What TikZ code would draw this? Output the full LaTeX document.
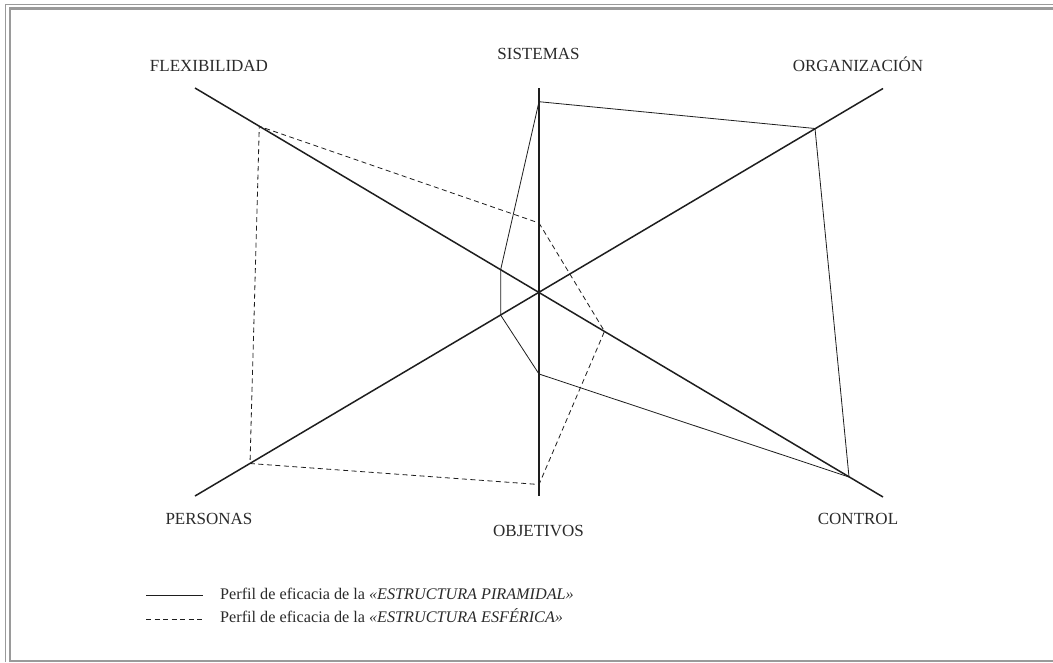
\documentclass[tikz,border=0pt]{standalone}
\usepackage{fontspec}
\setmainfont{Liberation Serif}
\definecolor{ink}{HTML}{1E1E1E}
\definecolor{textink}{HTML}{2A2A2A}
\definecolor{framegray}{HTML}{9A9A9A}
\begin{document}
\begin{tikzpicture}[x=1pt,y=-1pt,
  axis/.style={draw=ink,line width=1.5pt},
  profile/.style={draw=ink,line width=0.8pt,line join=miter},
  sphere/.style={profile,dash pattern=on 5pt off 3.5pt},
  axislabel/.style={anchor=base,inner sep=0pt,text=textink,font=\fontsize{17}{20}\selectfont},
  legendtext/.style={anchor=base west,inner sep=0pt,text=textink,font=\fontsize{16.2}{19}\selectfont},
  framethin/.style={draw=framegray,line width=1pt},
  framethick/.style={draw=framegray,line width=2.2pt}]
\useasboundingbox (0,0) rectangle (1053,662);
\fill[white] (0,0) rectangle (1053,662);

% double gray frame, open to the right
\draw[framethin] (5.5,662) -- (5.5,4.5) -- (1053,4.5);
\draw[framethick] (10,662) -- (10,8.5) -- (1053,8.5);
\draw[framethick] (10,660.8) -- (1053,660.8);

% axis end points and centre
\coordinate (c) at (539,292.5);
\coordinate (sisTop) at (539,88);
\coordinate (objBot) at (539,496);
\coordinate (flexEnd) at (195,88);
\coordinate (ctrlEnd) at (883,497);
\coordinate (orgEnd) at (883,88.5);
\coordinate (perEnd) at (195,496);

% axes
\draw[axis] (sisTop) -- (objBot);
\draw[axis] (flexEnd) -- (ctrlEnd);
\draw[axis] (perEnd) -- (orgEnd);

% axis labels
\node[axislabel] (lflex) at (209,71) {FLEXIBILIDAD};
\node[axislabel] (lsis)  at (538.5,59) {SISTEMAS};
\node[axislabel] (lorg)  at (858,71) {ORGANIZACIÓN};
\node[axislabel] (lper)  at (209,524) {PERSONAS};
\node[axislabel] (lobj)  at (538.5,536) {OBJETIVOS};
\node[axislabel] (lctrl) at (858,524) {CONTROL};

% profile of the pyramidal structure
\coordinate (pSis)  at (539,101.7);
\coordinate (pOrg)  at (815,128.5);
\coordinate (pCtrl) at (849,477);
\coordinate (pObj)  at (539,374);
\coordinate (pPer)  at (500.7,315.2);
\coordinate (pFlex) at (500.7,269.5);
\draw[profile] (pSis) -- (pOrg) -- (pCtrl) -- (pObj) -- (pPer) -- (pFlex) -- cycle;

% profile of the spherical structure
\coordinate (eSis)  at (539,223);
\coordinate (eCtrl) at (604.5,331.3);
\coordinate (eObj)  at (539,484.5);
\coordinate (ePer)  at (250,463.5);
\coordinate (eFlex) at (259.3,126.3);
\draw[sphere] (eSis) -- (eCtrl) -- (eObj) -- (ePer) -- (eFlex) -- cycle;

% legend
\coordinate (k1a) at (146,595);
\coordinate (k1b) at (203,595);
\coordinate (k2a) at (146,619);
\coordinate (k2b) at (203,619);
\draw[profile] (k1a) -- (k1b);
\draw[sphere] (k2a) -- (k2b);
\node[legendtext] (leg1) at (220,599) {Perfil de eficacia de la \textit{«ESTRUCTURA PIRAMIDAL»}};
\node[legendtext] (leg2) at (220,622.5) {Perfil de eficacia de la \textit{«ESTRUCTURA ESFÉRICA»}};
\end{tikzpicture}
\end{document}
